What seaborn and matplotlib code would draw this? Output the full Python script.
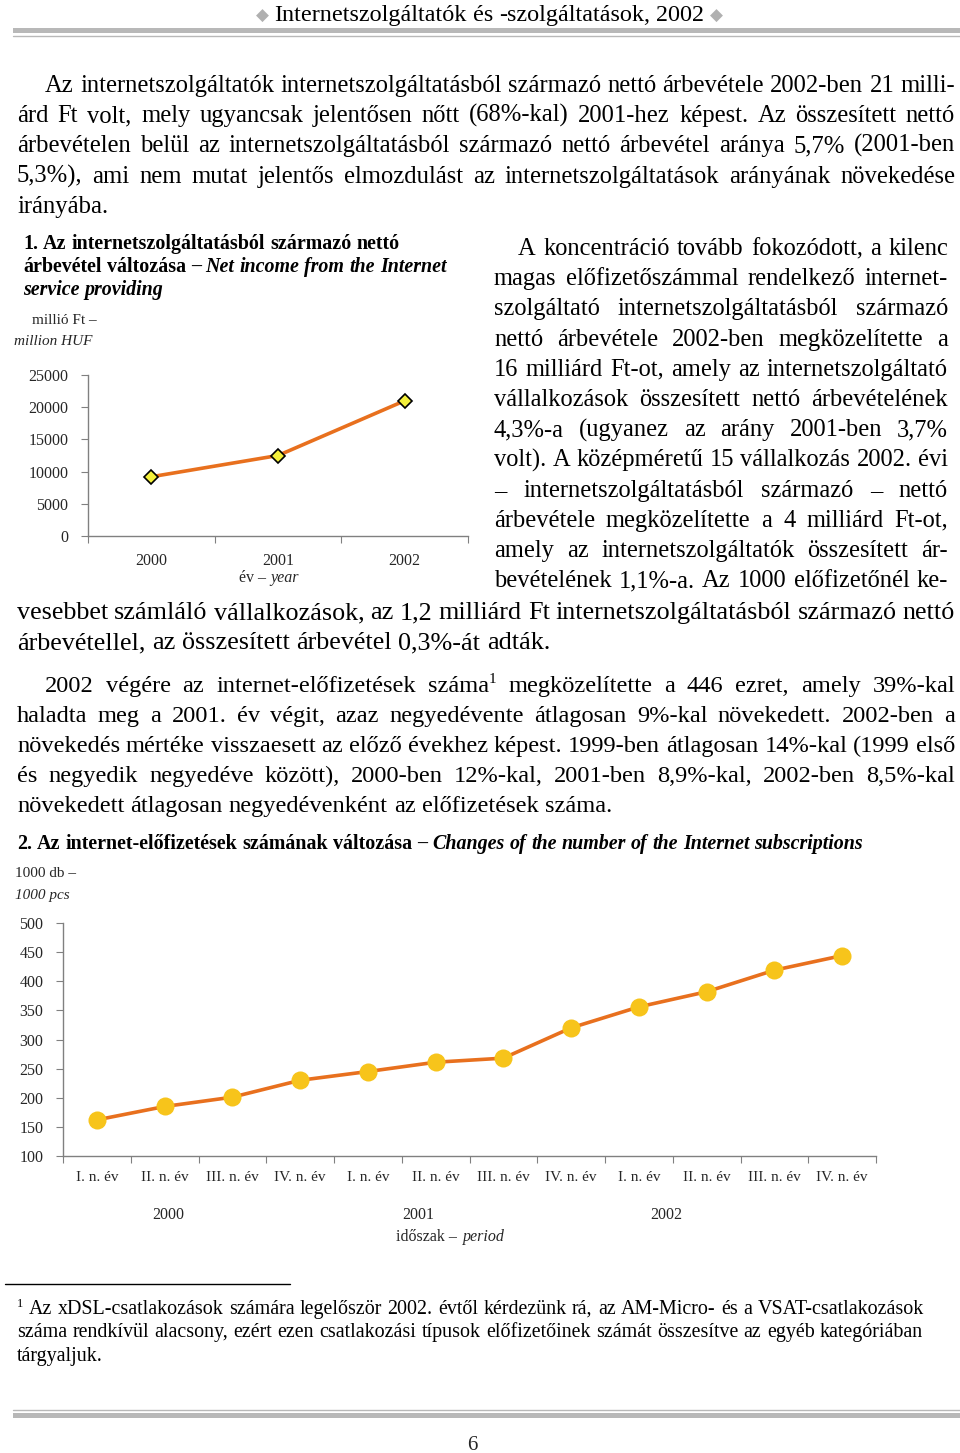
import matplotlib
matplotlib.use("Agg")
import matplotlib.pyplot as plt
import numpy as np
import pandas as pd
import seaborn as sns
from matplotlib.lines import Line2D
from matplotlib.patches import Rectangle

# --- data ---
years = ["2000", "2001", "2002"]
net_income = [9200, 12500, 21000]  # millió Ft

quarter_labels = ["I. n. év", "II. n. év", "III. n. év", "IV. n. év"] * 3
subscriptions = [162, 185, 201, 230, 245, 261, 268, 320, 356, 382, 419, 444]  # 1000 db
period_years = ["2000", "2001", "2002"]

W, H = 960, 1453
SERIF = ["Liberation Serif", "DejaVu Serif"]
LINE_C = "#e8701e"

sns.set_style("white")
plt.rcParams["font.family"] = SERIF

fig = plt.figure(figsize=(W / 100, H / 100), dpi=100)
R = fig.canvas.get_renderer()


def fx(x):
    return x / W


def fy(y):
    return 1 - y / H


def words(s, **st):
    return [(w, st) for w in s.split()]


def put_block(lines, size=16, lo=0.8, hi=1.3):
    """lines: (baseline y, tokens, x0, x1, mode) with mode justify / left / fit / center.
    One font scale for the whole block: the tightest justified line gets normal gaps."""
    spx = size * 100 / 72
    built = []
    for y, toks, x0, x1, mode in lines:
        texts = []
        for t, st in toks:
            fs = size * st.get("scale", 1)
            tx = fig.text(0, 0, t, fontsize=fs, fontweight=st.get("weight", "normal"),
                          fontstyle=st.get("style", "normal"), color=st.get("color", "black"),
                          family=st.get("family", SERIF), ha="left", va="baseline")
            texts.append((tx, st, fs))
        built.append((y, texts, x0, x1, mode))

    def widths(texts):
        return [tx.get_window_extent(R).width for tx, _, _ in texts]

    def nbreaks(texts):
        return sum(1 for i, (_, st, _) in enumerate(texts) if i > 0 and not st.get("glue"))

    fs_list = []
    for y, texts, x0, x1, mode in built:
        if mode in ("justify", "fit", "center"):
            fs_list.append((x1 - x0) / (sum(widths(texts)) + nbreaks(texts) * 0.25 * spx))
    f = min(fs_list) if fs_list else 1.0
    f = min(max(f, lo), hi)

    for y, texts, x0, x1, mode in built:
        g = f
        for tx, _, fs in texts:
            tx.set_fontsize(fs * g)
        ws = widths(texts)
        nb = nbreaks(texts)
        space = 0.25 * spx * g
        if mode in ("justify", "fit") and sum(ws) + nb * 0.18 * spx * g > (x1 - x0):
            k = (x1 - x0) / (sum(ws) + nb * 0.18 * spx * g)
            g *= k
            for tx, _, fs in texts:
                tx.set_fontsize(fs * g)
            ws = widths(texts)
            space = 0.18 * spx * g
        gap = (x1 - x0 - sum(ws)) / nb if (mode == "justify" and nb > 0) else space
        x = x0
        if mode == "center":
            x = (x0 + x1) / 2 - (sum(ws) + nb * gap) / 2
        for i, (tx, st, fs) in enumerate(texts):
            if i > 0 and not st.get("glue"):
                x += gap
            tx.set_position((fx(x), fy(y - st.get("rise", 0) * g)))
            x += ws[i]


# --- page header / footer rules ---
DIA = dict(family=["DejaVu Sans"], color="#b0b0b0", scale=0.7)
put_block([(21, [("◆", DIA)] + words("Internetszolgáltatók és -szolgáltatások, 2002") + [("◆", DIA)],
            257, 722, "center")], size=16)
fig.add_artist(Rectangle((fx(13), fy(33)), fx(960) - fx(13), 5 / H, transform=fig.transFigure,
                         color="#b8b8b8", lw=0))
fig.add_artist(Line2D([fx(13), fx(960)], [fy(36), fy(36)], color="#b8b8b8", lw=1))
fig.add_artist(Line2D([fx(13), fx(960)], [fy(1410), fy(1410)], color="#b8b8b8", lw=1))
fig.add_artist(Rectangle((fx(13), fy(1418)), fx(960) - fx(13), 5 / H, transform=fig.transFigure,
                         color="#b8b8b8", lw=0))
fig.text(fx(472), fy(1450), "6", fontsize=15, ha="center", va="baseline")

# --- paragraph 1 ---
L, RR = 17, 955
put_block([
    (92, words("Az internetszolgáltatók internetszolgáltatásból származó nettó árbevétele 2002-ben 21 milli-"), 45, RR, "justify"),
    (122, words("árd Ft volt, mely ugyancsak jelentősen nőtt (68%-kal) 2001-hez képest. Az összesített nettó"), L, RR, "justify"),
    (152, words("árbevételen belül az internetszolgáltatásból származó nettó árbevétel aránya 5,7% (2001-ben"), L, RR, "justify"),
    (183, words("5,3%), ami nem mutat jelentős elmozdulást az internetszolgáltatások arányának növekedése"), L, RR, "justify"),
    (213, words("irányába."), L, 104, "left"),
])

# --- right column paragraph ---
col = [
    ("A koncentráció tovább fokozódott, a kilenc", 518),
    ("magas előfizetőszámmal rendelkező internet-", 494),
    ("szolgáltató internetszolgáltatásból származó", 494),
    ("nettó árbevétele 2002-ben megközelítette a", 494),
    ("16 milliárd Ft-ot, amely az internetszolgáltató", 494),
    ("vállalkozások összesített nettó árbevételének", 494),
    ("4,3%-a (ugyanez az arány 2001-ben 3,7%", 494),
    ("volt). A középméretű 15 vállalkozás 2002. évi", 494),
    ("– internetszolgáltatásból származó – nettó", 494),
    ("árbevétele megközelítette a 4 milliárd Ft-ot,", 494),
    ("amely az internetszolgáltatók összesített ár-", 494),
    ("bevételének 1,1%-a. Az 1000 előfizetőnél ke-", 494),
]
put_block([(255 + i * 30.2, words(s), x0, 948, "justify") for i, (s, x0) in enumerate(col)])
put_block([
    (619, words("vesebbet számláló vállalkozások, az 1,2 milliárd Ft internetszolgáltatásból származó nettó"), L, RR, "justify"),
    (649, words("árbevétellel, az összesített árbevétel 0,3%-át adták."), L, 506, "left"),
])

# --- paragraph 3 ---
put_block([
    (692, words("2002 végére az internet-előfizetések száma")
     + [("1", dict(scale=0.62, rise=8, glue=True))]
     + words("megközelítette a 446 ezret, amely 39%-kal"), 45, RR, "justify"),
    (722, words("haladta meg a 2001. év végit, azaz negyedévente átlagosan 9%-kal növekedett. 2002-ben a"), L, RR, "justify"),
    (752, words("növekedés mértéke visszaesett az előző évekhez képest. 1999-ben átlagosan 14%-kal (1999 első"), L, RR, "justify"),
    (782, words("és negyedik negyedéve között), 2000-ben 12%-kal, 2001-ben 8,9%-kal, 2002-ben 8,5%-kal"), L, RR, "justify"),
    (812, words("növekedett átlagosan negyedévenként az előfizetések száma."), L, 584, "left"),
])

# --- footnote ---
fig.add_artist(Line2D([fx(5), fx(290)], [fy(1284), fy(1284)], color="black", lw=1))
put_block([
    (1314, [("1", dict(scale=0.62, rise=7))]
     + words("Az xDSL-csatlakozások számára legelőször 2002. évtől kérdezünk rá, az AM-Micro- és a VSAT-csatlakozások"),
     17, 924, "justify"),
    (1337, words("száma rendkívül alacsony, ezért ezen csatlakozási típusok előfizetőinek számát összesítve az egyéb kategóriában"),
     17, 923, "justify"),
    (1361, words("tárgyaljuk."), 17, 102, "left"),
], size=13.5)

# --- chart 1 ---
B = dict(weight="bold")
BI = dict(weight="bold", style="italic")
put_block([
    (249, words("1. Az internetszolgáltatásból származó nettó", **B), 23, 401, "fit"),
    (272, words("árbevétel változása –", **B) + words("Net income from the Internet", **BI), 23, 449, "fit"),
    (295, words("service providing", **BI), 23, 164, "left"),
], size=13.5)
fig.text(fx(32), fy(324), "millió Ft –", fontsize=11, va="baseline")
fig.text(fx(14), fy(345), "million HUF", fontsize=11, style="italic", va="baseline")

ax1 = fig.add_axes([fx(88), fy(536), (468 - 88) / W, (536 - 375) / H])
df1 = pd.DataFrame({"pos": np.arange(len(years)), "value": net_income})
sns.lineplot(data=df1, x="pos", y="value", ax=ax1, color=LINE_C, linewidth=2.6,
             marker="D", markersize=7, markerfacecolor="#f4f03c",
             markeredgecolor="black", markeredgewidth=1.2)
ax1.set_xlim(-0.5, len(years) - 0.5)
ax1.set_ylim(0, 25000)
ax1.set_yticks(np.arange(0, 25001, 5000))
ax1.set_xticks(np.arange(-0.5, len(years), 1.0))
ax1.set_xticklabels([])
ax1.set_xticks(np.arange(len(years)), minor=True)
ax1.set_xticklabels(years, minor=True)
ax1.tick_params(axis="x", which="major", length=5, color="#808080", direction="out", bottom=True)
ax1.tick_params(axis="x", which="minor", length=0, pad=12, labelsize=11.5)
ax1.tick_params(axis="y", length=5, color="#808080", direction="out", left=True, pad=9, labelsize=11.5)
ax1.set_xlabel("")
ax1.set_ylabel("")
sns.despine(ax=ax1)
for s in ("left", "bottom"):
    ax1.spines[s].set_color("#808080")
    ax1.spines[s].set_linewidth(1)
fig.text(fx(239), fy(582), "év –", fontsize=11.5, va="baseline")
fig.text(fx(270), fy(582), "year", fontsize=11.5, style="italic", va="baseline")

# --- chart 2 ---
put_block([(849, words("2. Az internet-előfizetések számának változása –", **B)
            + words("Changes of the number of the Internet subscriptions", **BI), 17, 866, "fit")], size=13.5)
fig.text(fx(15), fy(877), "1000 db –", fontsize=11, va="baseline")
fig.text(fx(15), fy(899), "1000 pcs", fontsize=11, style="italic", va="baseline")

ax2 = fig.add_axes([fx(63), fy(1156), (876 - 63) / W, (1156 - 923) / H])
df2 = pd.DataFrame({"pos": np.arange(len(subscriptions)), "value": subscriptions})
sns.lineplot(data=df2, x="pos", y="value", ax=ax2, color=LINE_C, linewidth=2.6,
             marker="o", markersize=13, markerfacecolor="#f7c41b",
             markeredgecolor="#f7c41b", markeredgewidth=0)
ax2.set_xlim(-0.5, len(subscriptions) - 0.5)
ax2.set_ylim(100, 500)
ax2.set_yticks(np.arange(100, 501, 50))
ax2.set_xticks(np.arange(-0.5, len(subscriptions), 1.0))
ax2.set_xticklabels([])
ax2.set_xticks(np.arange(len(subscriptions)), minor=True)
ax2.set_xticklabels(quarter_labels, minor=True)
ax2.tick_params(axis="x", which="major", length=5, color="#808080", direction="out", bottom=True)
ax2.tick_params(axis="x", which="minor", length=0, pad=11, labelsize=11)
ax2.tick_params(axis="y", length=5, color="#808080", direction="out", left=True, pad=9, labelsize=11.5)
ax2.set_xlabel("")
ax2.set_ylabel("")
sns.despine(ax=ax2)
for s in ("left", "bottom"):
    ax2.spines[s].set_color("#808080")
    ax2.spines[s].set_linewidth(1)
for yl, xp in zip(period_years, [1.06, 4.74, 8.41]):
    ax2.text(xp, -0.27, yl, transform=ax2.get_xaxis_transform(), ha="center", va="baseline", fontsize=11.5)
fig.text(fx(396), fy(1241), "időszak –", fontsize=11.5, va="baseline")
fig.text(fx(463), fy(1241), "period", fontsize=11.5, style="italic", va="baseline")

fig.savefig("out.png", dpi=100)
